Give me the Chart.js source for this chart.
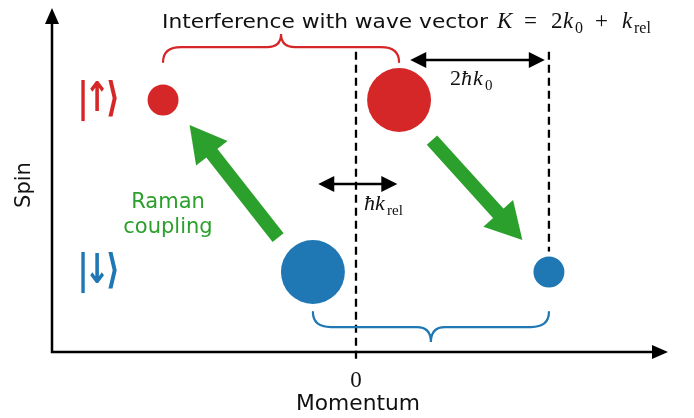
<!DOCTYPE html>
<html>
<head>
<meta charset="utf-8">
<script src="https://cdn.jsdelivr.net/npm/chart.js@4/dist/chart.umd.min.js"></script>
<style>
  body { margin: 0; background: #fff; }
</style>
</head>
<body>
<canvas id="myChart" width="694" height="418"></canvas>
<script>
// momentum in units of k0, spin: 0 = down, 1 = up
let kRel = 0.73;
let upMomentum = [-2 + kRel / 2, kRel / 2];
let upPopulation = [0.19, 0.81];
let downMomentum = [-kRel / 2, 2 - kRel / 2];
let downPopulation = [0.81, 0.19];
let spinLabels = [["|", "\u2193", "\u27E9"], ["|", "\u2191", "\u27E9"]];
let xTickLabels = ["0"];

let red = "#d62728", blue = "#1f77b4", green = "#2ca02c";

function bubbles(xs, pops, spin) {
    return xs.map((v, i) => ({ x: v, y: spin, r: 35.5 * Math.sqrt(pops[i]) }));
}

function arrowHead(ctx, x0, y0, x1, y1, len, half) {
    let a = Math.atan2(y1 - y0, x1 - x0);
    ctx.beginPath();
    ctx.moveTo(x1, y1);
    ctx.lineTo(x1 - len * Math.cos(a) + half * Math.sin(a), y1 - len * Math.sin(a) - half * Math.cos(a));
    ctx.lineTo(x1 - len * Math.cos(a) - half * Math.sin(a), y1 - len * Math.sin(a) + half * Math.cos(a));
    ctx.closePath();
    ctx.fill();
}

function fatArrow(ctx, x0, y0, x1, y1) {
    let a = Math.atan2(y1 - y0, x1 - x0);
    let len = 36;
    ctx.strokeStyle = green; ctx.fillStyle = green; ctx.lineWidth = 14;
    ctx.lineCap = "butt";
    ctx.beginPath();
    ctx.moveTo(x0, y0);
    ctx.lineTo(x1 - (len - 2) * Math.cos(a), y1 - (len - 2) * Math.sin(a));
    ctx.stroke();
    arrowHead(ctx, x0, y0, x1, y1, len, 20);
}

function doubleArrow(ctx, x0, x1, y) {
    ctx.strokeStyle = "#000"; ctx.fillStyle = "#000"; ctx.lineWidth = 2.5;
    ctx.beginPath(); ctx.moveTo(x0 + 10, y); ctx.lineTo(x1 - 10, y); ctx.stroke();
    arrowHead(ctx, x1, y, x0, y, 16, 8);
    arrowHead(ctx, x0, y, x1, y, 16, 8);
}

function brace(ctx, x0, x1, yEnd, yFlat, yTip, color) {
    let xm = (x0 + x1) / 2;
    ctx.strokeStyle = color; ctx.lineWidth = 2.2; ctx.lineCap = "round";
    ctx.beginPath();
    ctx.moveTo(x0, yEnd);
    ctx.quadraticCurveTo(x0, yFlat, x0 + 18, yFlat);
    ctx.lineTo(xm - 14, yFlat);
    ctx.quadraticCurveTo(xm, yFlat, xm, yTip);
    ctx.quadraticCurveTo(xm, yFlat, xm + 14, yFlat);
    ctx.lineTo(x1 - 18, yFlat);
    ctx.quadraticCurveTo(x1, yFlat, x1, yEnd);
    ctx.stroke();
}

// place pieces of text: [text, font, x, dy]
function place(ctx, parts, y, color) {
    ctx.fillStyle = color; ctx.textAlign = "left"; ctx.textBaseline = "alphabetic";
    for (let p of parts) {
        ctx.font = p[1];
        ctx.fillText(p[0], p[2], y + (p[3] || 0));
    }
}

function fitText(ctx, text, font, x, y, width, color) {
    ctx.font = font; ctx.fillStyle = color;
    ctx.textAlign = "left";
    let w = ctx.measureText(text).width;
    ctx.save();
    ctx.translate(x, y);
    ctx.scale(width / w, 1);
    ctx.fillText(text, 0, 0);
    ctx.restore();
}

// ket: three glyphs centred at given x positions, stretched vertically
function ket(ctx, glyphs, xs, y, color) {
    ctx.save();
    ctx.font = "bold 32px " + SANS;
    ctx.fillStyle = color;
    ctx.textAlign = "center"; ctx.textBaseline = "middle";
    glyphs.forEach((g, i) => {
        ctx.save();
        ctx.translate(xs[i], y);
        ctx.scale(0.95, 1.28);
        ctx.fillText(g, 0, 0);
        ctx.restore();
    });
    ctx.restore();
}

const SANS = "'DejaVu Sans'";
const SERIF = "'Liberation Serif'";
const M = "23px " + SERIF, MI = "italic 23px " + SERIF, MS = "16px " + SERIF;
const L = "22px " + SERIF, LI = "italic 22px " + SERIF, LS = "15px " + SERIF;

const diagram = {
    id: "diagram",
    beforeDatasetsDraw(chart) {
        let ctx = chart.ctx, xs = chart.scales.x, ys = chart.scales.y;
        let px = v => xs.getPixelForValue(v), py = v => ys.getPixelForValue(v);
        let a = chart.chartArea;
        ctx.save();
        // axes
        ctx.strokeStyle = "#000"; ctx.fillStyle = "#000"; ctx.lineWidth = 2.5;
        ctx.beginPath();
        ctx.moveTo(a.left, a.top + 12); ctx.lineTo(a.left, a.bottom); ctx.lineTo(a.right - 12, a.bottom);
        ctx.stroke();
        arrowHead(ctx, a.left, a.bottom, a.left, a.top, 16, 7);
        arrowHead(ctx, a.left, a.bottom, a.right, a.bottom, 16, 7);
        // dashed guides
        ctx.setLineDash([8, 5]); ctx.lineWidth = 2.3;
        ctx.beginPath();
        ctx.moveTo(px(0), py(1.28)); ctx.lineTo(px(0), a.bottom + 10);
        ctx.moveTo(px(downMomentum[1]), py(1.28)); ctx.lineTo(px(downMomentum[1]), py(0.12));
        ctx.stroke();
        ctx.setLineDash([]);
        ctx.restore();
    },
    afterDatasetsDraw(chart) {
        let ctx = chart.ctx, xs = chart.scales.x, ys = chart.scales.y;
        let px = v => xs.getPixelForValue(v), py = v => ys.getPixelForValue(v);
        ctx.save();
        // Raman coupling arrows
        fatArrow(ctx, px(-0.66), py(0.20), px(-1.41), py(0.855));
        fatArrow(ctx, px(0.644), py(0.767), px(1.41), py(0.186));
        // momentum differences
        doubleArrow(ctx, px(-0.32), px(0.35), py(0.512));
        doubleArrow(ctx, px(0.46), px(1.60), py(1.233));
        // braces
        brace(ctx, px(upMomentum[0]), px(upMomentum[1]), py(1.221), py(1.308), py(1.384), red);
        brace(ctx, px(downMomentum[0]), px(downMomentum[1]), py(-0.233), py(-0.320), py(-0.407), blue);

        // texts
        ctx.textBaseline = "alphabetic";
        fitText(ctx, "Interference with wave vector", "20px " + SANS, 162, 28, 326, "#111");
        place(ctx, [["K", MI, 497], ["=", M, 524], ["2", M, 551], ["k", MI, 563], ["0", MS, 575, 5],
                    ["+", M, 595], ["k", MI, 622], ["rel", MS, 634, 5]], 28, "#111");
        place(ctx, [["2", L, 450], ["\u0127", LI, 461], ["k", LI, 473], ["0", LS, 485, 5]], 85, "#111");
        place(ctx, [["\u0127", LI, 364], ["k", LI, 375], ["rel", LS, 387, 5]], 210, "#111");

        ctx.textAlign = "center";
        ctx.fillStyle = green; ctx.font = "21px " + SANS;
        ctx.fillText("Raman", 168, 208);
        ctx.fillText("coupling", 168, 233);

        ctx.fillStyle = "#111"; ctx.font = "23px " + SERIF;
        ctx.fillText(xTickLabels[0], px(0), 387);
        fitText(ctx, "Momentum", "21px " + SANS, 296, 410, 124, "#111");
        ctx.textAlign = "center";
        ctx.save();
        ctx.translate(30, 185); ctx.rotate(-Math.PI / 2);
        ctx.fillText("Spin", 0, 0);
        ctx.restore();

        // spin kets
        ket(ctx, spinLabels[1], [83, 97, 113], py(1), red);
        ket(ctx, spinLabels[0], [83, 97, 113], py(0), blue);
        ctx.restore();
    }
};

new Chart(document.getElementById("myChart"), {
    type: "bubble",
    data: {
        datasets: [
            { label: "spin up", data: bubbles(upMomentum, upPopulation, 1), backgroundColor: red, borderWidth: 0, clip: false },
            { label: "spin down", data: bubbles(downMomentum, downPopulation, 0), backgroundColor: blue, borderWidth: 0, clip: false }
        ]
    },
    options: {
        responsive: false,
        animation: false,
        layout: { autoPadding: false, padding: { left: 52, right: 26, top: 8, bottom: 66 } },
        scales: {
            x: { type: "linear", display: false, min: -2.576, max: 2.644 },
            y: { type: "linear", display: false, min: -0.465, max: 1.535 }
        },
        plugins: { legend: { display: false }, tooltip: { enabled: false } },
        elements: { point: { hoverRadius: 0 } }
    },
    plugins: [diagram]
});
</script>
</body>
</html>
